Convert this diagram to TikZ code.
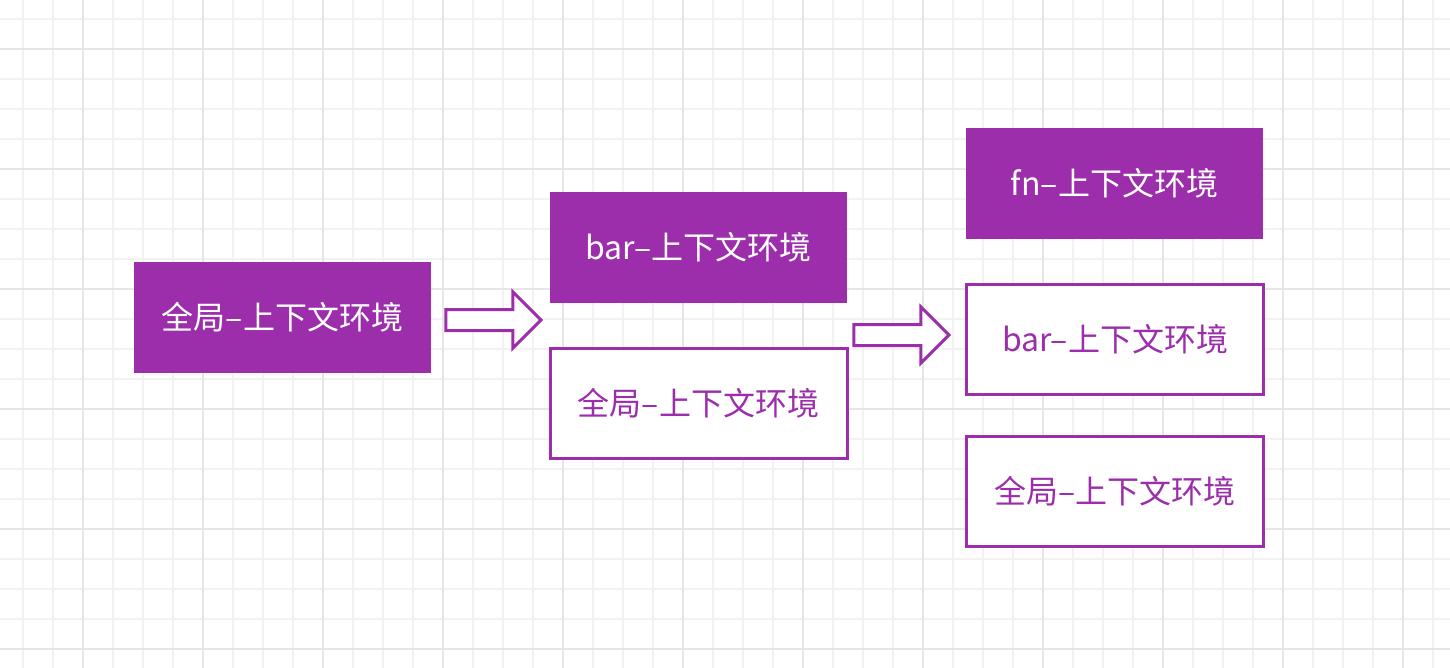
\documentclass[tikz,border=0pt]{standalone}
\usepackage{fontspec}
\setmainfont{Noto Sans CJK SC}
\usepackage{xcolor}
\usepackage{tikz}
\usetikzlibrary{shapes.arrows}
\definecolor{ctxpurple}{HTML}{9C2EAC}
\definecolor{gridminor}{HTML}{F2F2F2}
\definecolor{gridmajor}{HTML}{E6E6E6}

\begin{document}
\begin{tikzpicture}[x=1pt,y=-1pt]

\tikzset{ctx box/.style={
    rectangle, minimum width=297pt, minimum height=111pt, inner sep=0pt,
    font=\fontsize{32}{38}\selectfont
  },
  ctx fill/.style={ctx box, fill=ctxpurple, text=white},
  ctx open/.style={ctx box, draw=ctxpurple, line width=3pt, fill=white,
    text=ctxpurple, minimum width=297pt, minimum height=110pt},
  push arrow/.style={single arrow, draw=ctxpurple, line width=3pt, fill=white,
    inner xsep=0pt, inner ysep=9pt, single arrow head extend=17.5pt,
    single arrow tip angle=90, minimum height=95pt, anchor=tip}
}

\useasboundingbox (0,0) rectangle (1450,668);
\fill[white] (0,0) rectangle (1450,668);

% grid
\foreach \gx in {23,53,...,1450} \draw[gridminor,line width=2pt] (\gx,0) -- (\gx,668);
\foreach \gy in {19,49,...,668} \draw[gridminor,line width=2pt] (0,\gy) -- (1450,\gy);
\foreach \gx in {83,203,...,1450} \draw[gridmajor,line width=2pt] (\gx,0) -- (\gx,668);
\foreach \gy in {49,169,...,668} \draw[gridmajor,line width=2pt] (0,\gy) -- (1450,\gy);

% stack 1
\node[ctx fill] (global1) at (282.5,317.5) {全局–上下文环境};

\node[push arrow] (push1) at (543,320) {};

% stack 2
\node[ctx fill] (bar2) at (698.5,247.5) {bar–上下文环境};
\node[ctx open] (global2) at (698.5,403.5) {全局–上下文环境};

\node[push arrow] (push2) at (951,335) {};

% stack 3
\node[ctx fill] (fn3) at (1114.5,183.5) {fn–上下文环境};
\node[ctx open] (bar3) at (1115,339.5) {bar–上下文环境};
\node[ctx open] (global3) at (1115,491.5) {全局–上下文环境};

\end{tikzpicture}
\end{document}
